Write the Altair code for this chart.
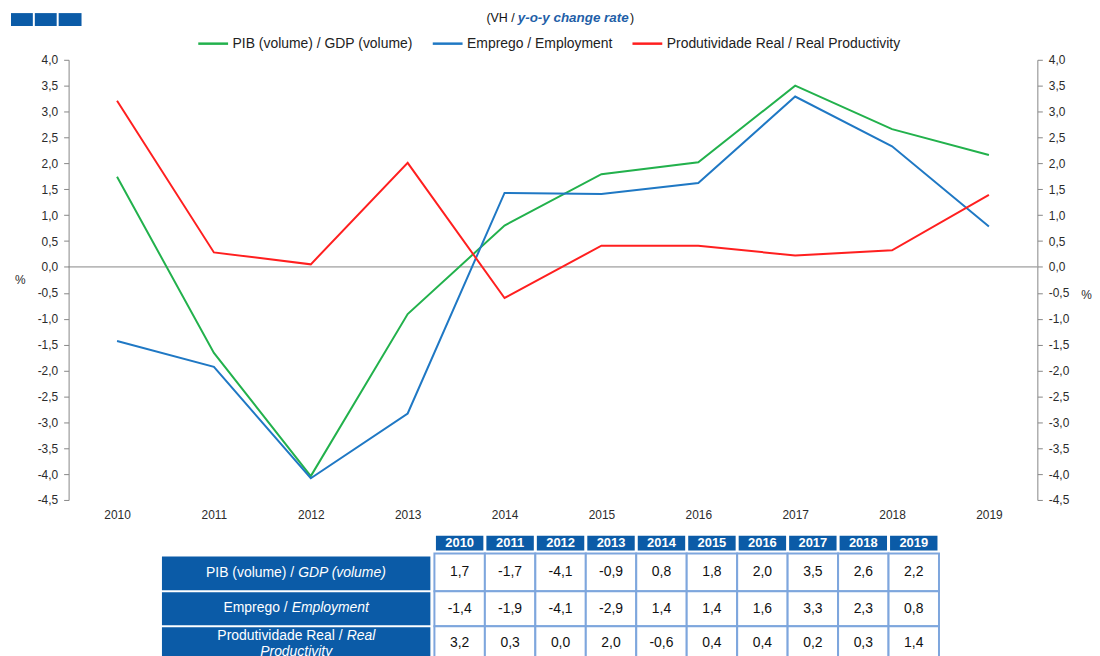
import altair as alt
import pandas as pd

# ---------------- data ----------------
years = ["2010", "2011", "2012", "2013", "2014", "2015", "2016", "2017", "2018", "2019"]
gdp = [1.74, -1.66, -4.04, -0.91, 0.80, 1.79, 2.02, 3.50, 2.66, 2.16]
emp = [-1.43, -1.93, -4.08, -2.83, 1.43, 1.41, 1.62, 3.29, 2.33, 0.78]
prod = [3.21, 0.28, 0.05, 2.01, -0.60, 0.41, 0.41, 0.22, 0.32, 1.39]

series_names = [
    "PIB (volume) / GDP (volume)",
    "Emprego / Employment",
    "Produtividade Real / Real Productivity",
]
series_colors = ["#22b14c", "#1f78c4", "#ff1f1f"]

y_ticks = [-4.5, -4.0, -3.5, -3.0, -2.5, -2.0, -1.5, -1.0, -0.5,
           0.0, 0.5, 1.0, 1.5, 2.0, 2.5, 3.0, 3.5, 4.0]

table_gdp = ["1,7", "-1,7", "-4,1", "-0,9", "0,8", "1,8", "2,0", "3,5", "2,6", "2,2"]
table_emp = ["-1,4", "-1,9", "-4,1", "-2,9", "1,4", "1,4", "1,6", "3,3", "2,3", "0,8"]
table_prod = ["3,2", "0,3", "0,0", "2,0", "-0,6", "0,4", "0,4", "0,2", "0,3", "1,4"]

row_label_pt = ["PIB (volume) /", "Emprego /", "Produtividade Real /"]
row_label_en = ["GDP (volume)", "Employment", "Real"]
row3_line2 = "Productivity"

title_pt = "(VH /"
title_en = "y-o-y change rate"

FONT = "Liberation Sans"
AXIS_GREY = "#868686"
TXT = "#2b2b2b"
TABLE_BLUE = "#0b5ba7"
GRID_BLUE = "#7ea6dd"

# ---------------- line chart ----------------
df = pd.DataFrame({
    "year": years * 3,
    "value": gdp + emp + prod,
    "series": [n for n in series_names for _ in years],
})

label_expr = "replace(replace(format(datum.value, '.1f'), '.', ','), '\u2212', '-')"

yscale = alt.Scale(domain=[-4.5, 4.0], nice=False, zero=False)
xenc = alt.X(
    "year:O",
    scale=alt.Scale(type="point", padding=0.5),
    axis=alt.Axis(title=None, domain=False, ticks=False, labelAngle=0,
                  labelPadding=10, labelFontSize=12, labelColor=TXT),
)


def y_axis(orient, tx, ty):
    return alt.Axis(
        orient=orient, values=y_ticks, labelExpr=label_expr, grid=False,
        title="%", titleAngle=0, titleX=tx, titleY=ty, titleAlign="center",
        titleBaseline="middle", titleFontWeight="normal", titleFontSize=12,
        titleColor=TXT, domainColor=AXIS_GREY, tickColor=AXIS_GREY,
        tickSize=5, labelPadding=6, labelFontSize=12, labelColor=TXT,
    )


lines = alt.Chart(df).mark_line(strokeWidth=2).encode(
    x=xenc,
    y=alt.Y("value:Q", scale=yscale, axis=y_axis("left", -49, 221)),
    color=alt.Color(
        "series:N",
        scale=alt.Scale(domain=series_names, range=series_colors),
        legend=alt.Legend(
            title=None, orient="none", legendX=129, legendY=-33,
            direction="horizontal", symbolType="stroke", symbolSize=900,
            symbolStrokeWidth=2.5, labelFontSize=14, labelColor="#222222",
            columnPadding=14, labelOffset=3, labelLimit=600,
        ),
    ),
)

right = alt.Chart(df).mark_point(opacity=0).encode(
    x=xenc,
    y=alt.Y("value:Q", scale=yscale, axis=y_axis("right", 49, 236)),
)

zero_rule = alt.Chart(pd.DataFrame({"zero": [0.0]})).mark_rule(
    color=AXIS_GREY, strokeWidth=1
).encode(y=alt.Y("zero:Q", scale=yscale, axis=None))

one = pd.DataFrame({"a": [0]})
t1 = alt.Chart(one).mark_text(text=title_pt, align="right", baseline="middle",
                              fontSize=12.5, color="#111111").encode(
    x=alt.value(449), y=alt.value(-42))
t2 = alt.Chart(one).mark_text(text=title_en, align="left", baseline="middle",
                              fontSize=13.5, fontStyle="italic", fontWeight="bold",
                              color="#1f5fa8").encode(
    x=alt.value(452), y=alt.value(-42))
t3 = alt.Chart(one).mark_text(text=")", align="left", baseline="middle",
                              fontSize=12.5, color="#111111").encode(
    x=alt.value(565), y=alt.value(-42))

sq = []
for x0, x1 in [(-58, -36), (-34, -12), (-10, 13)]:
    sq.append(alt.Chart(one).mark_rect(color=TABLE_BLUE).encode(
        x=alt.value(x0), x2=alt.value(x1), y=alt.value(-47), y2=alt.value(-34)))

top = alt.layer(zero_rule, lines, right, t1, t2, t3, *sq).resolve_axis(
    y="independent"
).properties(width=975, height=443)

# ---------------- table ----------------
TX = alt.Scale(domain=[-7.25, 10], nice=False, zero=False)
TY = alt.Scale(domain=[0, 130], reverse=True, nice=False, zero=False)
HEADER = (0, 15)
BODY_ROWS = [(18, 56), (56, 91), (91, 128)]
LABEL_ROWS = [(21, 55), (57, 90), (92, 128)]
LABEL_X = (-5.40, -0.08)
VALUE_Y = [37, 73.5, 108]
LABEL_Y = [38, 73, 101]
LINE2_Y = 117
PT_RIGHT = [-2.78, -2.91, -1.82]
EN_LEFT = [-2.70, -2.83, -1.74]

hdr = pd.DataFrame({
    "x0": [i + 0.03 for i in range(len(years))],
    "x1": [i + 0.97 for i in range(len(years))],
    "xc": [i + 0.5 for i in range(len(years))],
    "y0": HEADER[0], "y1": HEADER[1], "yc": (HEADER[0] + HEADER[1]) / 2,
    "t": years,
})
body_rows = []
for r, vals in enumerate([table_gdp, table_emp, table_prod]):
    for i, v in enumerate(vals):
        body_rows.append({"x0": i, "x1": i + 1, "xc": i + 0.5,
                          "y0": BODY_ROWS[r][0], "y1": BODY_ROWS[r][1],
                          "yc": VALUE_Y[r], "t": v})
body = pd.DataFrame(body_rows)
lab = pd.DataFrame({
    "x0": LABEL_X[0], "x1": LABEL_X[1],
    "y0": [a for a, b in LABEL_ROWS], "y1": [b for a, b in LABEL_ROWS],
    "yc": LABEL_Y, "pt": row_label_pt, "en": row_label_en,
    "xp": PT_RIGHT, "xe": EN_LEFT,
})
line2 = pd.DataFrame({"xc": [(LABEL_X[0] + LABEL_X[1]) / 2], "yc": [LINE2_Y], "t": [row3_line2]})


def rect_enc(c):
    return c.encode(
        x=alt.X("x0:Q", scale=TX, axis=None), x2="x1:Q",
        y=alt.Y("y0:Q", scale=TY, axis=None), y2="y1:Q",
    )


hdr_rect = rect_enc(alt.Chart(hdr).mark_rect(fill=TABLE_BLUE))
hdr_text = alt.Chart(hdr).mark_text(color="white", fontWeight="bold", fontSize=13,
                                    baseline="middle").encode(
    x=alt.X("xc:Q", scale=TX, axis=None), y=alt.Y("yc:Q", scale=TY, axis=None), text="t:N")
body_rect = rect_enc(alt.Chart(body).mark_rect(fill="white", stroke=GRID_BLUE, strokeWidth=2))
body_text = alt.Chart(body).mark_text(color="#111111", fontSize=14, baseline="middle").encode(
    x=alt.X("xc:Q", scale=TX, axis=None), y=alt.Y("yc:Q", scale=TY, axis=None), text="t:N")
lab_rect = rect_enc(alt.Chart(lab).mark_rect(fill=TABLE_BLUE))
lab_pt = alt.Chart(lab).mark_text(color="white", fontSize=14, align="right",
                                  baseline="middle").encode(
    x=alt.X("xp:Q", scale=TX, axis=None), y=alt.Y("yc:Q", scale=TY, axis=None), text="pt:N")
lab_en = alt.Chart(lab).mark_text(color="white", fontSize=14, align="left", fontStyle="italic",
                                  baseline="middle").encode(
    x=alt.X("xe:Q", scale=TX, axis=None), y=alt.Y("yc:Q", scale=TY, axis=None), text="en:N")
lab_l2 = alt.Chart(line2).mark_text(color="white", fontSize=14, align="center", fontStyle="italic",
                                    baseline="middle").encode(
    x=alt.X("xc:Q", scale=TX, axis=None), y=alt.Y("yc:Q", scale=TY, axis=None), text="t:N")

table = alt.layer(hdr_rect, hdr_text, body_rect, body_text, lab_rect, lab_pt, lab_en, lab_l2).properties(
    width=876, height=130)

chart = alt.vconcat(top, table, spacing=36, bounds="flush").properties(
    padding={"left": 3, "top": 1, "right": 0, "bottom": 0}
).configure(font=FONT).configure_view(strokeWidth=0)

chart.save("out.html", embed_options={"renderer": "svg", "actions": False})
